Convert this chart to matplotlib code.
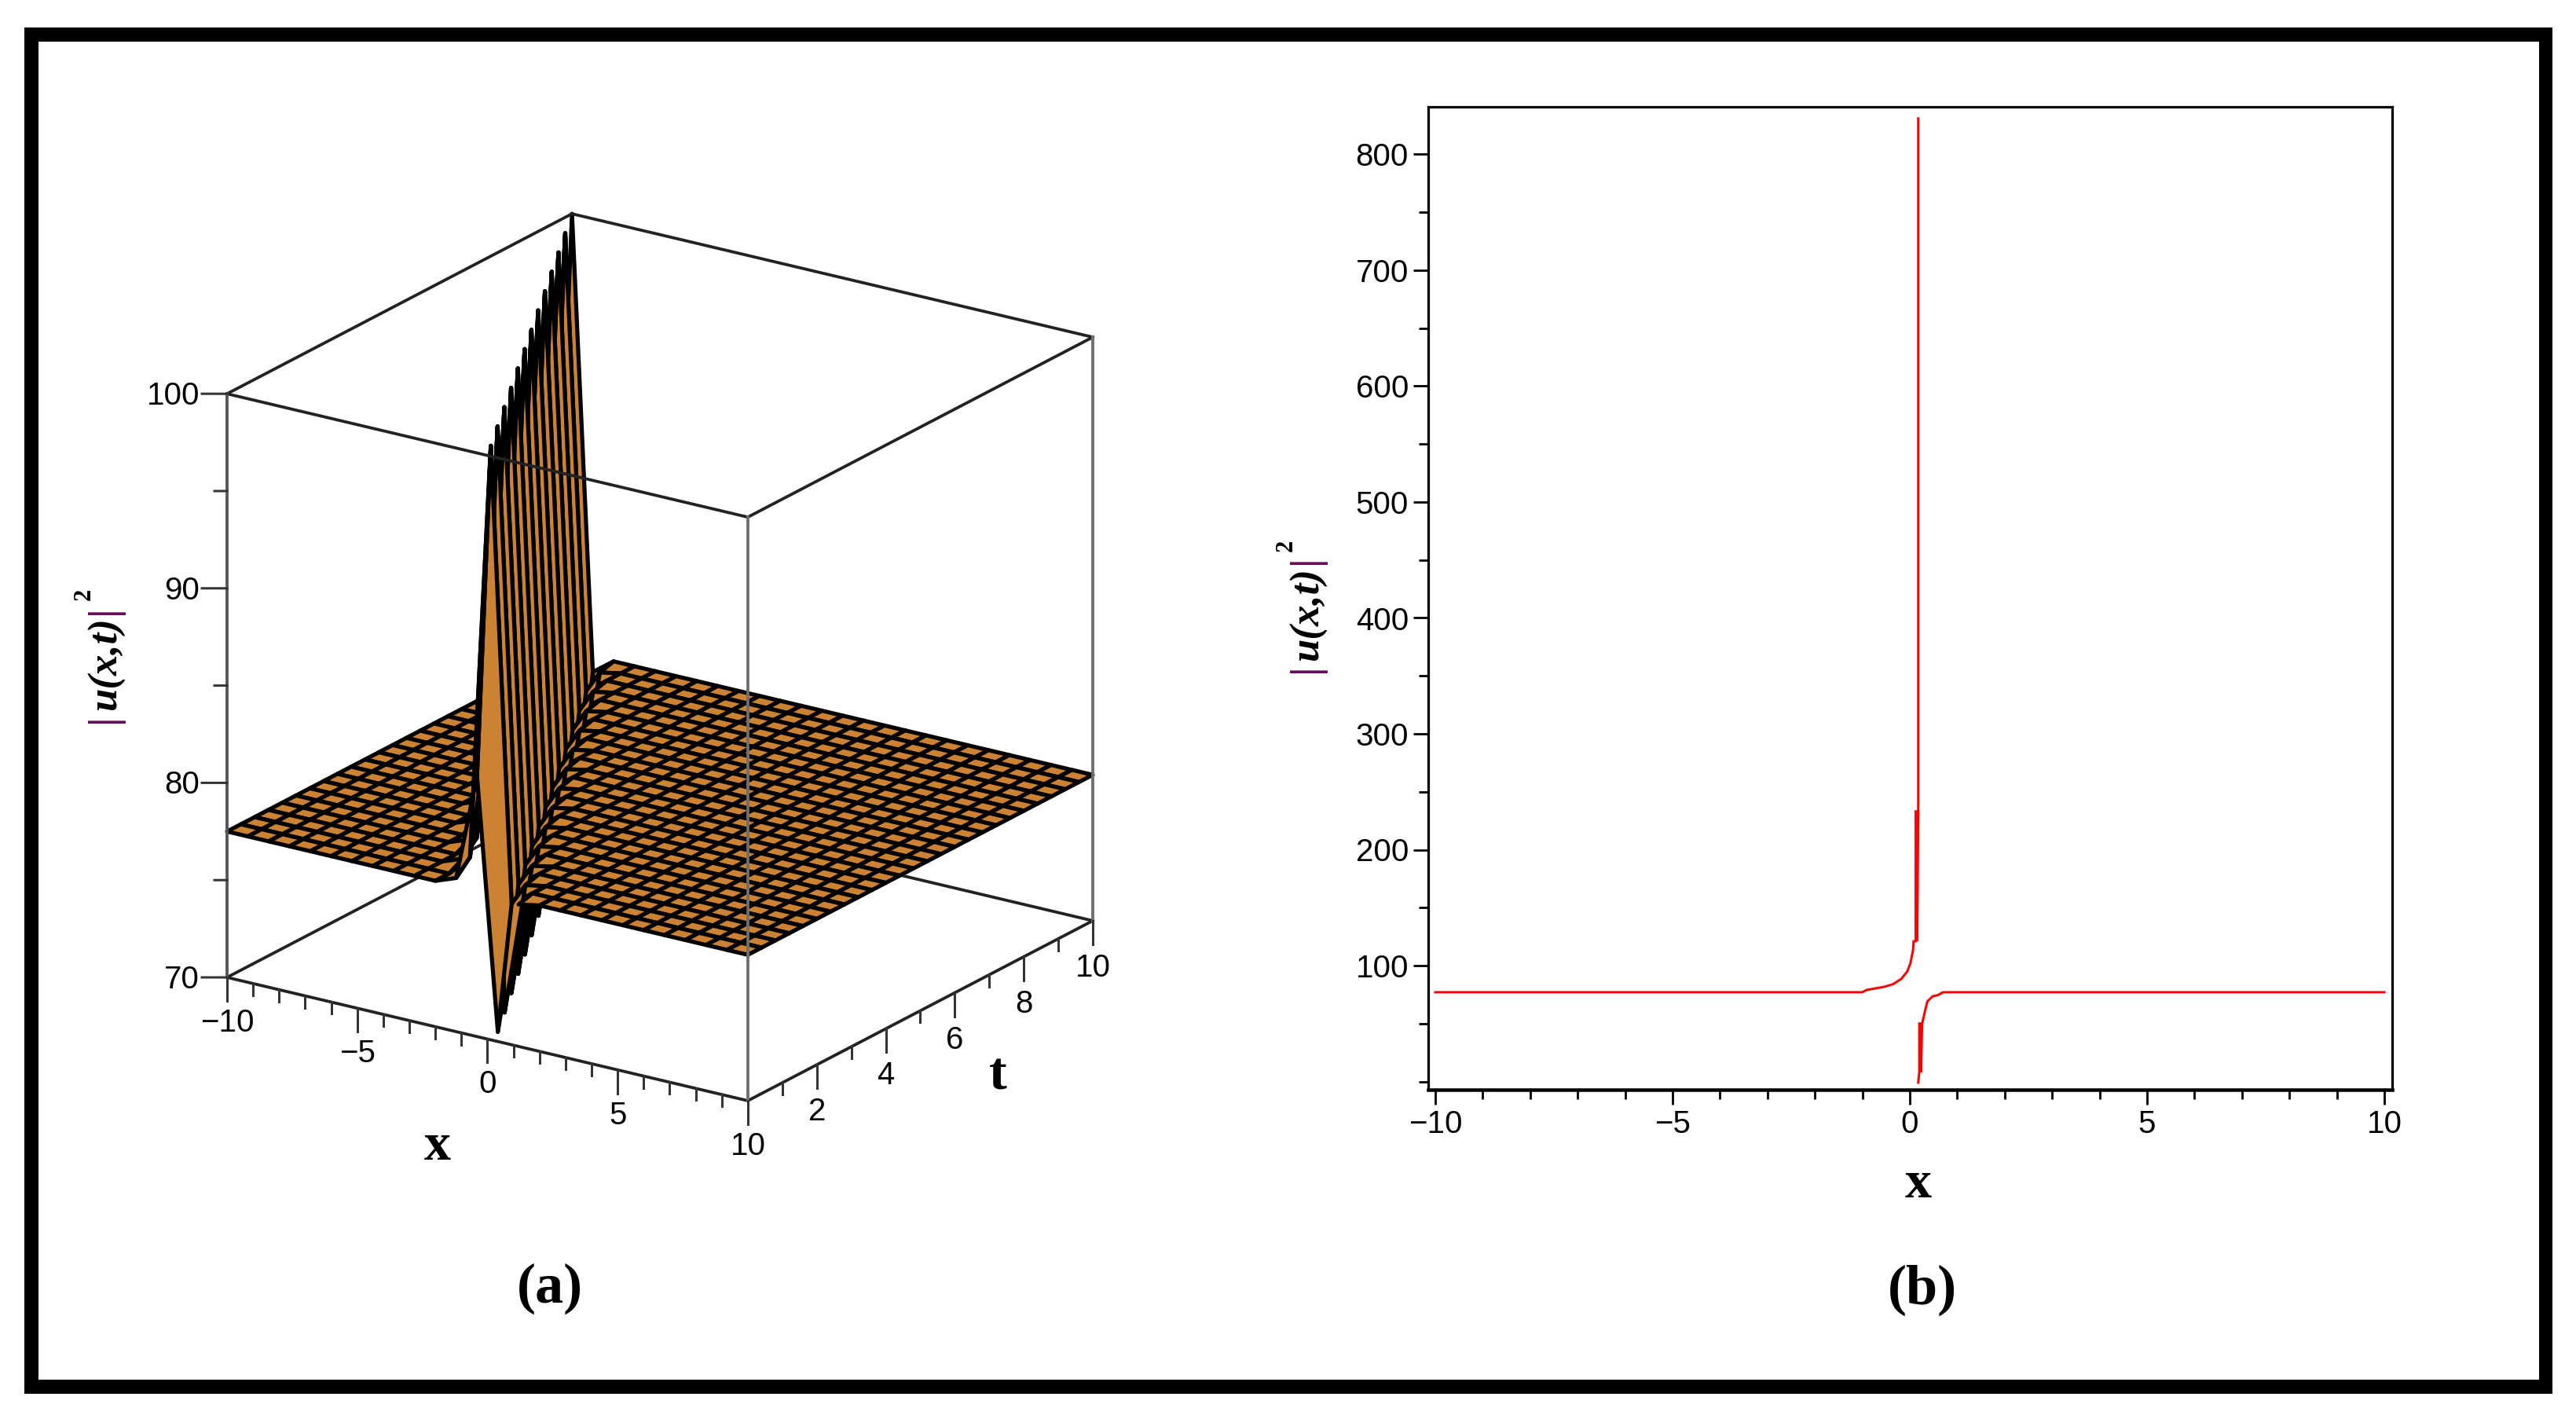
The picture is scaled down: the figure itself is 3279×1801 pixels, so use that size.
import numpy as np
import matplotlib
matplotlib.use('Agg')
import matplotlib.pyplot as plt
from matplotlib.patches import Rectangle
from matplotlib.ticker import MultipleLocator
from mpl_toolkits.mplot3d import proj3d

W, H = 3279, 1801

# panel (a): surface, grid of 26 x 26 nodes, height depends on 2*i + j only
x_nodes = [-10 + 0.8 * n for n in range(26)]
t_nodes = [0.4 * n for n in range(26)]
plateau = 77.5
wave_index = [21, 22, 23, 24, 25, 26, 27, 28]
wave_height = [77.5, 77.9, 78.6, 83.4, 100.0, 70.5, 76.7, 77.3]

x_major = [-10, -5, 0, 5, 10]
x_minor = list(range(-10, 11))
t_major = [2, 4, 6, 8, 10]
t_minor = list(range(0, 11))
z_major = [70, 80, 90, 100]
z_minor = [75, 85, 95]

# panel (b): section at t = 0
x_left = [-10, -1.0, -0.91, -0.54, -0.35, -0.18, -0.055, 0.01, 0.067, 0.08, 0.125, 0.125, 0.155, 0.155, 0.178, 0.178]
y_left = [77, 77, 79, 81.7, 84, 88.5, 94.8, 101.6, 113, 121, 121, 233, 233, 121, 231, 831]
x_right = [0.178, 0.2, 0.2, 0.235, 0.235, 0.26, 0.32, 0.37, 0.48, 0.59, 0.7, 10]
y_right = [-1, 8, 50, 50, 8, 50, 60.7, 69, 73.5, 74.5, 77, 77]

sect_xticks = [-10, -5, 0, 5, 10]
sect_yticks = [100, 200, 300, 400, 500, 600, 700, 800]

ORANGE = '#CB8333'
SANS = 'Liberation Sans'
SERIF = 'Liberation Serif'
TICK_SIZE = 29
PX = 0.72  # one pixel in points at dpi 100

fig = plt.figure(figsize=(W / 100, H / 100), dpi=100, facecolor='white')


def place(px, py):
    return px / W, 1 - py / H


# outer frame
for x0, y0, x1, y1 in [(31, 35, 3249, 53), (31, 1756, 3249, 1774), (31, 35, 49, 1774), (3232, 35, 3249, 1774)]:
    fig.add_artist(Rectangle((x0 / W, 1 - y1 / H), (x1 - x0) / W, (y1 - y0) / H,
                             transform=fig.transFigure, color='black', lw=0))

# ---- panel (a) ----
ax = fig.add_axes([0.1, 0.1, 1000 / W, 1000 / H], projection='3d', computed_zorder=False)
ax.set_proj_type('ortho')
ax.set_box_aspect((799.5, 786, 793.6))
ax.view_init(elev=20.58, azim=-56.03)
ax.set_xlim(-10, 10)
ax.set_ylim(0, 10)
ax.set_zlim(70, 100)
ax.set_axis_off()
ax.patch.set_alpha(0)


def to_screen(x, y, z):
    xs, ys, _ = proj3d.proj_transform(x, y, z, ax.get_proj())
    return ax.transData.transform((xs, ys))


def label3d(x, y, z, text, ha='center'):
    p = to_screen(x, y, z)
    fig.text(p[0] / W, p[1] / H, text, family=SANS, fontsize=TICK_SIZE, ha=ha, va='center')


# size and move the axes so that the box lands where it is in the picture
fig.canvas.draw()
a = to_screen(-10, 0, 70)
b = to_screen(10, 10, 70)
size = 1000 * 1102 / (b[0] - a[0])
ax.set_position([0.1, 0.1, size / W, size / H])
fig.canvas.draw()
a = to_screen(-10, 0, 70)
ax.set_position([0.1 + (289 - a[0]) / W, 0.1 + ((H - 1244) - a[1]) / H, size / W, size / H])
fig.canvas.draw()

X, T = np.meshgrid(x_nodes, t_nodes)
Z = np.full(X.shape, plateau)
for j in range(len(t_nodes)):
    for i in range(len(x_nodes)):
        if 2 * i + j in wave_index:
            Z[j, i] = wave_height[wave_index.index(2 * i + j)]

# box edges behind the surface
back = [((-10, 10), (10, 10), (70, 70)), ((-10, -10), (0, 10), (70, 70)), ((10, 10), (10, 10), (70, 70)),
        ((-10, -10), (10, 10), (70, 100))]
for xs, ts, zs in back:
    ax.plot(xs, ts, zs, color='#222222', lw=3.8 * PX, zorder=1)

ax.plot_surface(X, T, Z, rstride=1, cstride=1, color=ORANGE, edgecolor='black', linewidth=5.2 * PX,
                shade=False, antialiased=True, zorder=2)

# box edges in front
front = [((-10, 10), (0, 0), (70, 70), '#222222'), ((10, 10), (0, 10), (70, 70), '#222222'),
         ((-10, 10), (0, 0), (100, 100), '#222222'), ((10, 10), (0, 10), (100, 100), '#222222'),
         ((-10, 10), (10, 10), (100, 100), '#222222'), ((-10, -10), (0, 10), (100, 100), '#222222'),
         ((-10, -10), (0, 0), (70, 100), '#555555'), ((10, 10), (0, 0), (70, 100), '#6e6e6e'),
         ((10, 10), (10, 10), (70, 100), '#6e6e6e')]
for xs, ts, zs, col in front:
    ax.plot(xs, ts, zs, color=col, lw=3.8 * PX, zorder=3)

# ticks are straight down on the x and t edges, straight left on the z edge
per_px_z = 30 / 743
for v in x_minor:
    ln = 30 if v in x_major else 15
    ax.plot([v, v], [0, 0], [70, 70 - ln * per_px_z], color='#333333', lw=3 * PX, zorder=3)
for v in x_major:
    label3d(v, 0, 70 - 58 * per_px_z, str(v).replace('-', '\u2212'))
for v in t_minor:
    ln = 30 if v in t_major else 15
    ax.plot([10, 10], [v, v], [70, 70 - ln * per_px_z], color='#333333', lw=3 * PX, zorder=3)
for v in t_major:
    label3d(10, v, 70 - 60 * per_px_z, str(v))
left_x, left_t = -1 / 48.2, -0.343 / 48.2
for v in z_major + z_minor:
    ln = 32 if v in z_major else 16
    ax.plot([-10, -10 + ln * left_x], [0, ln * left_t], [v, v], color='#333333', lw=3 * PX, zorder=3)
for v in z_major:
    label3d(-10 + 35 * left_x, 35 * left_t, v - 3 * per_px_z, str(v), ha='right')

# ---- panel (b) ----
px0, px1, py0, py1 = 1818, 3045, 136, 1387
ax2 = fig.add_axes([px0 / W, 1 - py1 / H, (px1 - px0) / W, (py1 - py0) / H])
ax2.plot(x_left, y_left, color='#FF0000', lw=3 * PX, solid_joinstyle='miter')
ax2.plot(x_right, y_right, color='#FF0000', lw=3 * PX, solid_joinstyle='miter')
ax2.set_xlim(-10 - 9 / 60.4, 10 + 10 / 60.4)
ax2.set_ylim(100 - (1387 - 1229) / 1.475, 100 + (1229 - 136) / 1.475)
ax2.set_xticks(sect_xticks)
ax2.set_xticklabels([str(v).replace('-', '\u2212') for v in sect_xticks], family=SANS, fontsize=TICK_SIZE)
ax2.set_yticks(sect_yticks)
ax2.set_yticklabels([str(v) for v in sect_yticks], family=SANS, fontsize=TICK_SIZE)
ax2.xaxis.set_minor_locator(MultipleLocator(1))
ax2.yaxis.set_minor_locator(MultipleLocator(50))
ax2.tick_params(which='major', length=19 * PX, width=2.8 * PX, pad=6 * PX)
ax2.tick_params(which='minor', length=12 * PX, width=2.8 * PX)
for name, sp in ax2.spines.items():
    sp.set_linewidth((4.5 if name == 'bottom' else 3.2) * PX)

# ---- labels ----
for text, px, py, fs in [('x', 557, 1460, 49), ('x', 2442, 1507, 49), ('t', 1270, 1370, 49),
                         ('(a)', 700, 1640, 52), ('(b)', 2447, 1642, 52)]:
    tx, ty = place(px, py)
    fig.text(tx, ty, text, family=SERIF, weight='bold', fontsize=fs, ha='center', va='center')

BAR = '#6A0A5A'
for bar_x, u_y, bar_y0, bar_y1, two_x, two_y in [(133, 845, 776, 914, 107, 756), (1663, 782, 712, 850, 1637, 694)]:
    for by in (bar_y0, bar_y1):
        tx, ty = place(bar_x, by)
        fig.text(tx, ty, '|', family=SERIF, weight='bold', fontsize=38, color=BAR,
                 rotation=90, ha='center', va='center')
    tx, ty = place(bar_x + 2, u_y)
    fig.text(tx, ty, 'u(x,t)', family=SERIF, weight='bold', style='italic', fontsize=38,
             rotation=90, ha='center', va='center')
    tx, ty = place(two_x, two_y)
    fig.text(tx, ty, '2', family=SERIF, weight='bold', fontsize=22, rotation=90, ha='center', va='center')

fig.savefig('out.png', dpi=100, facecolor='white')
